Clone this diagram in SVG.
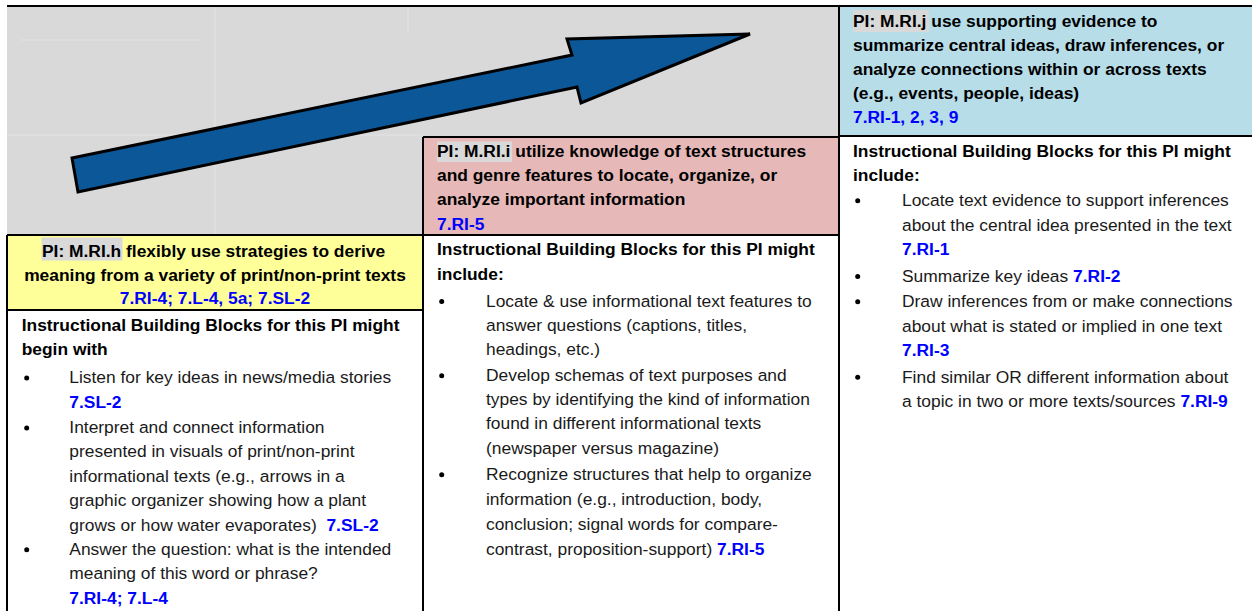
<svg xmlns="http://www.w3.org/2000/svg" width="1252" height="611" viewBox="0 0 1252 611">
<style>
text{font-family:"Liberation Sans",Arial,sans-serif;font-size:17.4px;fill:#1a1a1a}
.b{font-weight:bold;fill:#000}
.ref{font-weight:bold;fill:#0000ff}
.hl{fill:#d9d9d9}
.bd{stroke:#000;stroke-width:2;fill:none}
.faint{stroke:#e3e3e3;stroke-width:1;fill:none}
.dot{fill:#000}
</style>
<defs><circle id="bul" r="2.5" class="dot"/></defs>
<rect width="1252" height="611" fill="#ffffff"/>
<g id="background">
<rect x="7" y="6" width="832" height="229" fill="#d9d9d9"/>
<line class="faint" x1="21" y1="40" x2="200" y2="40"/>
<line class="faint" x1="215" y1="7" x2="215" y2="234"/>
<line class="faint" x1="7" y1="135" x2="423" y2="135"/>
<line class="faint" x1="408" y1="7" x2="408" y2="33"/>
</g>
<g id="arrow">
<polygon points="72,158 572,55 567,39 750,34 581,103 577,87 78,192" fill="#0b5797" stroke="#000" stroke-width="3" stroke-linejoin="miter"/>
</g>
<g id="pi-j">
<rect x="839" y="6" width="413" height="130" fill="#b7dde8"/>
<rect class="hl" x="853" y="10" width="76" height="22"/>
<text x="853" y="26.7" class="b">PI: M.RI.j use supporting evidence to</text>
<text x="853" y="50.5" class="b">summarize central ideas, draw inferences, or</text>
<text x="853" y="74.5" class="b">analyze connections within or across texts</text>
<text x="853" y="98.5" class="b">(e.g., events, people, ideas)</text>
<text x="853" y="122.7" class="ref">7.RI-1, 2, 3, 9</text>
</g>
<g id="pi-i">
<rect x="423" y="137" width="416" height="98" fill="#e6b8b7"/>
<rect class="hl" x="437" y="141.5" width="75" height="20.5"/>
<text x="437" y="156.7" class="b">PI: M.RI.i utilize knowledge of text structures</text>
<text x="437" y="181" class="b">and genre features to locate, organize, or</text>
<text x="437" y="205.3" class="b">analyze important information</text>
<text x="437" y="229.5" class="ref">7.RI-5</text>
</g>
<g id="pi-h">
<rect x="7" y="235" width="416" height="75" fill="#ffff99"/>
<rect class="hl" x="41.5" y="237.5" width="81" height="23"/>
<text x="42" y="257" class="b">PI: M.RI.h flexibly use strategies to derive</text>
<text x="215" y="280.5" class="b" text-anchor="middle">meaning from a variety of print/non-print texts</text>
<text x="215" y="304" class="ref" text-anchor="middle">7.RI-4; 7.L-4, 5a; 7.SL-2</text>
</g>
<g id="blocks-h">
<text x="21.7" y="331" class="b">Instructional Building Blocks for this PI might</text>
<text x="21.7" y="354.5" class="b">begin with</text>
<use href="#bul" x="26.7" y="378"/>
<text x="69.3" y="383.3">Listen for key ideas in news/media stories</text>
<text x="69.3" y="407.7" class="ref">7.SL-2</text>
<use href="#bul" x="26.7" y="428"/>
<text x="69.3" y="433.3">Interpret and connect information</text>
<text x="69.3" y="456.7">presented in visuals of print/non-print</text>
<text x="69.3" y="481.5">informational texts (e.g., arrows in a</text>
<text x="69.3" y="506">graphic organizer showing how a plant</text>
<text x="69.3" y="530.7">grows or how water evaporates)&#160; <tspan class="ref">7.SL-2</tspan></text>
<use href="#bul" x="26.7" y="549.7"/>
<text x="69.3" y="555">Answer the question: what is the intended</text>
<text x="69.3" y="579.3">meaning of this word or phrase?</text>
<text x="69.3" y="604" class="ref">7.RI-4; 7.L-4</text>
</g>
<g id="blocks-i">
<text x="437" y="255" class="b">Instructional Building Blocks for this PI might</text>
<text x="437" y="280" class="b">include:</text>
<use href="#bul" x="441.7" y="301.4"/>
<text x="486" y="306.7">Locate &amp; use informational text features to</text>
<text x="486" y="330.5">answer questions (captions, titles,</text>
<text x="486" y="354.5">headings, etc.)</text>
<use href="#bul" x="441.7" y="375.7"/>
<text x="486" y="381">Develop schemas of text purposes and</text>
<text x="486" y="405">types by identifying the kind of information</text>
<text x="486" y="429.3">found in different informational texts</text>
<text x="486" y="453.7">(newspaper versus magazine)</text>
<use href="#bul" x="441.7" y="474.7"/>
<text x="486" y="480">Recognize structures that help to organize</text>
<text x="486" y="505">information (e.g., introduction, body,</text>
<text x="486" y="530">conclusion; signal words for compare-</text>
<text x="486" y="555">contrast, proposition-support) <tspan class="ref">7.RI-5</tspan></text>
</g>
<g id="blocks-j">
<text x="853" y="156.7" class="b">Instructional Building Blocks for this PI might</text>
<text x="853" y="180.5" class="b">include:</text>
<use href="#bul" x="857.7" y="200.7"/>
<text x="902" y="206">Locate text evidence to support inferences</text>
<text x="902" y="230.5">about the central idea presented in the text</text>
<text x="902" y="255" class="ref">7.RI-1</text>
<use href="#bul" x="857.7" y="276.4"/>
<text x="902" y="281.7">Summarize key ideas <tspan class="ref">7.RI-2</tspan></text>
<use href="#bul" x="857.7" y="301.7"/>
<text x="902" y="307">Draw inferences from or make connections</text>
<text x="902" y="331.5">about what is stated or implied in one text</text>
<text x="902" y="356" class="ref">7.RI-3</text>
<use href="#bul" x="857.7" y="377.2"/>
<text x="902" y="382.5">Find similar OR different information about</text>
<text x="902" y="406.7">a topic in two or more texts/sources <tspan class="ref">7.RI-9</tspan></text>
</g>
<g id="connectors">
<line class="bd" x1="7" y1="6" x2="1252" y2="6"/>
<line class="bd" x1="839" y1="6" x2="839" y2="611"/>
<line class="bd" x1="839" y1="136" x2="1252" y2="136"/>
<line class="bd" x1="423" y1="137" x2="839" y2="137"/>
<line class="bd" x1="423" y1="137" x2="423" y2="611"/>
<line class="bd" x1="7" y1="235" x2="839" y2="235"/>
<line class="bd" x1="7" y1="235" x2="7" y2="611"/>
<line class="bd" x1="7" y1="310" x2="423" y2="310"/>
</g>
</svg>
